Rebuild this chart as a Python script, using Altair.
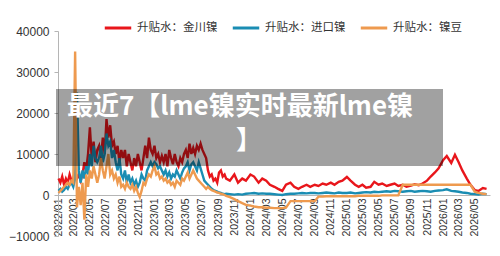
import altair as alt
import pandas as pd

# ---- categories ----
series_names = ["升贴水：金川镍", "升贴水：进口镍", "升贴水：镍豆"]
series_colors = ["#e8161b", "#1a8db3", "#ee9a4f"]

# weekly samples 2022-01-03 .. 2023-09-25, then semi-monthly 2023-10-01 .. 2026-06-15
weekly_dates = pd.date_range("2022-01-03", periods=91, freq="7D")
semi_dates = pd.date_range("2023-10-01", periods=66, freq="SMS")

# ---- 升贴水：金川镍 ----
red_2022 = [4000, 3000, 4500, 2500, 4000, 3000, 5000, 3500, 4000, 6000, 4000, 5000, 3500,
            5000, 8000, 6000, 10000, 16500, 9000, 13000, 8000, 11000, 12000, 9000, 14000, 10000,
            18500, 14000, 17000, 12000, 13000, 10000, 12000, 8000, 11000, 9000, 11000, 7000, 10000,
            8000, 6000, 9000, 7000, 10000, 8000, 6000, 9000, 12000, 9000, 14000, 11000, 10000]
red_2023w = [12000, 9000, 10000, 8000, 9500, 8000, 10000, 7000, 11000, 9000, 7500, 10000, 8000,
             7000, 9000, 8000, 10000, 11000, 9000, 12500, 10000, 11500, 10000, 12000, 11000, 12500,
             11000, 10000, 9000, 6000, 4500, 5000, 3500, 4000, 3000, 5500, 6000, 4500, 5000]
red_semi = [4000, 3500, 5000, 3000, 4000, 3500,
            5000, 4500, 3000, 4000, 3500, 2500, 2000, 1500, 1000, 2500, 3000, 2000,
            1500, 2000, 2500, 2000, 2500, 2200, 2800, 2500, 3000, 2500, 3200, 3500,
            4400, 3500, 2500, 2000, 2500, 1800, 2000, 3200, 2500, 2800, 2200, 2500,
            2800, 2200, 2500, 2000, 2300, 2600, 2400, 2800, 3500, 4500, 5500, 6500,
            8500, 9500, 7800, 9800, 8000, 6000, 4000, 2500, 1200, 1000, 1700, 1500]

# ---- 升贴水：进口镍 ----
blue_2022 = [1000, 1500, 800, 1200, 2000, 1500, 2500, 3000, 2000, 4000, 25000, 6000, 3000,
             6000, 4000, 7000, 5000, 10000, 7000, 12000, 9000, 8000, 9000, 12000, 8000, 10000,
             15000, 12000, 13000, 9000, 11000, 8000, 6000, 9000, 5000, 4000, 6000, 3000, 5000,
             3000, 4000, 2500, 3500, 2000, 3000, 5000, 4000, 3500, 6000, 7000, 8000, 7000]
blue_2023w = [8000, 7500, 6500, 7000, 6000, 5000, 6000, 4500, 5500, 4000, 5000, 4500, 6000,
              5000, 4000, 5500, 6500, 7000, 8000, 6000, 7500, 8000, 7000, 6000, 8000, 6500,
              5000, 3500, 3000, 2500, 2000, 1500, 1200, 1000, 800, 600, 500, 300, 200]
blue_semi = [300, 200, 100, 200, 100, 300,
             400, 500, 300, 400, 300, 300, 200, 100, 0, 200, 300, 300,
             400, 500, 400, 500, 500, 400, 500, 600, 500, 400, 600, 500,
             500, 600, 400, 500, 600, 700, 600, 800, 700, 800, 900, 800,
             1000, 900, 800, 900, 1000, 800, 900, 1000, 900, 800, 1000, 1100,
             1200, 1400, 1000, 900, 800, 600, 500, 300, 200, 100, 300, 200]

# ---- 升贴水：镍豆 ----
orange_2022 = [500, 1000, 1500, 2000, 2500, 3000, 2500, 3500, 3000, 35000, -3000, 2000, -2500,
               3000, -6000, 5000, 2000, 6000, 4000, 7000, 5000, 3000, 5000, 9000, 6000, 4000,
               7000, 10000, 5000, 6000, 4000, 5000, 3000, 4500, 2000, 2500, 1500, 3000, 2000,
               1500, 2500, 1000, 2000, 500, -500, 1000, 3000, 2500, 4000, 5000, 4500, 6000]
orange_2023w = [7000, 5000, 5500, 4000, 4500, 3500, 4000, 3000, 3500, 2500, 3000, 2000, 3500,
                3000, 2500, 4000, 3500, 4500, 5500, 4000, 5000, 6000, 5000, 4000, 3500, 3000,
                2500, 2000, 1500, 2000, 1500, 1200, 1000, 800, 600, 500, 300, 200, 0]
orange_semi = [-200, -500, -1000, -1500, -2000, -2400,
               -2600, -2800, -3000, -3000, -3100, -3100, -3200, -3200, -3200, -3100, -1500, -1500,
               -1500, -1500, -1500, -1500, -1500, -400, -400, -300, -300, -300, -300, -300,
               -300, -300, -300, -200, -200, -200, -200, -200, -200, -100, -100, -100,
               -100, -100, 2500, 2500, 2500, 2500, 2500, 2500, 2500, 2500, 2500, 2500,
               2500, 2500, 2500, 2500, 2500, 2500, 2500, 2500, 800, 500, 300, 200]

all_dates = [d.strftime("%Y/%m/%d") for d in list(weekly_dates) + list(semi_dates)]
series_values = [red_2022 + red_2023w + red_semi,
                 blue_2022 + blue_2023w + blue_semi,
                 orange_2022 + orange_2023w + orange_semi]

rows = []
for name, vals in zip(series_names, series_values):
    for d, v in zip(all_dates, vals):
        rows.append({"date": d, "value": v, "series": name})
df = pd.DataFrame(rows)

y_ticks = [-10000, 0, 10000, 20000, 30000, 40000]
overlay_line1 = "最近7【lme镍实时最新lme镍"
overlay_line2 = "】"

NUM_FONT = "Liberation Sans"
CJK_FONT = "Noto Sans CJK SC"

lines = alt.Chart(df).mark_line(strokeWidth=2.4).encode(
    x=alt.X("date:T",
            scale=alt.Scale(domain=[alt.DateTime(year=2022, month=1, date=1),
                                    alt.DateTime(year=2026, month=6, date=28)]),
            axis=alt.Axis(format="%Y/%m", labelAngle=270,
                          tickCount=alt.TimeIntervalStep(interval="month", step=2),
                          offset=-41, ticks=False, labelPadding=3,
                          domainColor="#b5b5b5", labelFontSize=10.5, labelColor="#333333",
                          labelFont=NUM_FONT, labelOverlap=False, labelFlush=False,
                          grid=False, title=None)),
    y=alt.Y("value:Q",
            scale=alt.Scale(domain=[-10000, 40000], nice=False, zero=False),
            axis=alt.Axis(values=y_ticks, format="d", grid=False, domainColor="#b5b5b5",
                          tickColor="#b5b5b5", tickSize=4, labelPadding=5,
                          labelFontSize=12, labelColor="#333333", labelFont=NUM_FONT,
                          title=None)),
    color=alt.Color("series:N",
                    scale=alt.Scale(domain=series_names, range=series_colors),
                    sort=series_names,
                    legend=alt.Legend(orient="none", legendX=45, legendY=-18,
                                      direction="horizontal", title=None,
                                      symbolType="stroke", symbolStrokeWidth=3,
                                      symbolSize=700, labelFontSize=11.5,
                                      labelFont=CJK_FONT, labelColor="#333333",
                                      columnPadding=8, labelOffset=4)),
    order=alt.Order("date:T"),
)

one = pd.DataFrame({"k": [0]})
box = alt.Chart(one).mark_rect(color="black", opacity=0.37).encode(
    x=alt.value(-2), x2=alt.value(385), y=alt.value(58), y2=alt.value(135))

txt1 = alt.Chart(one).mark_text(font=CJK_FONT, fontWeight="bold", fontSize=26,
                                color="white", align="center", baseline="middle").encode(
    x=alt.value(182), y=alt.value(76), text=alt.value(overlay_line1))
txt2 = alt.Chart(one).mark_text(font=CJK_FONT, fontWeight="bold", fontSize=26,
                                color="white", align="left", baseline="middle").encode(
    x=alt.value(178), y=alt.value(110), text=alt.value(overlay_line2))

chart = alt.layer(lines, box, txt1, txt2).properties(
    width=432, height=205,
    autosize=alt.AutoSizeParams(type="none"),
    padding={"left": 58, "top": 31, "right": 10, "bottom": 20},
    background="white",
).configure_view(stroke=None)

chart.save("out.html", embed_options={"renderer": "svg", "actions": False})
